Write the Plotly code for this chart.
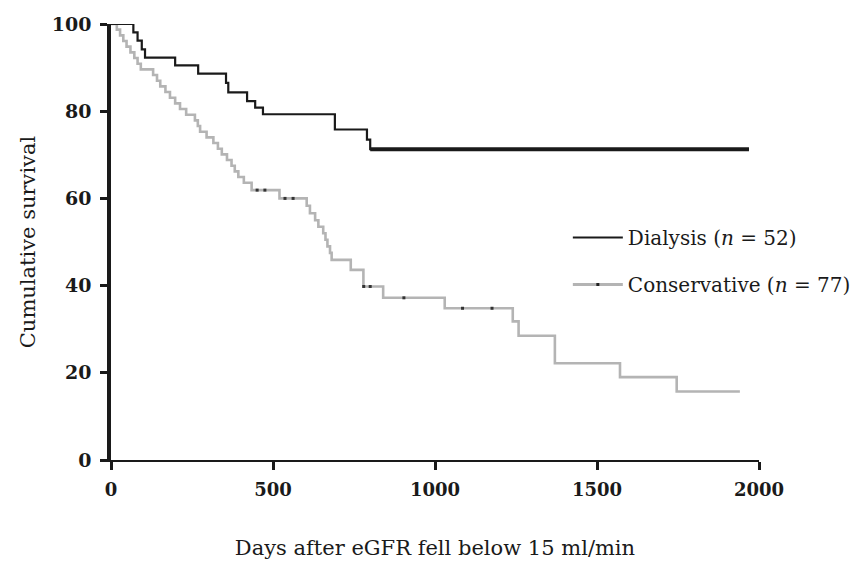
import plotly.graph_objects as go

# Kaplan-Meier estimates (days, cumulative survival %) -- value after each step
dialysis_days = [0, 69, 82, 95, 105, 198, 269, 355, 362, 420, 445, 469, 691, 790, 800, 1969]
dialysis_surv = [100, 98.1, 96.2, 94.2, 92.3, 90.5, 88.6, 86.5, 84.3, 82.3, 80.8, 79.3, 75.8, 73.5, 71.3, 71.3]

conservative_days = [0, 18, 28, 38, 48, 60, 72, 82, 92, 130, 142, 152, 168, 182, 198, 213,
                     232, 259, 268, 275, 295, 316, 330, 342, 358, 372, 382, 393, 410, 434,
                     520, 604, 614, 630, 640, 655, 662, 668, 676, 681, 740, 779, 840, 1030,
                     1240, 1258, 1370, 1571, 1746, 1941]
conservative_surv = [100, 98.7, 97.4, 96.1, 94.8, 93.5, 92.2, 90.9, 89.6, 88.3, 87.0, 85.7,
                     84.4, 83.1, 81.8, 80.5, 79.2, 77.9, 76.6, 75.3, 74.0, 72.7, 71.4, 70.1,
                     68.8, 67.5, 66.2, 64.9, 63.6, 61.9, 60.0, 58.3, 56.6, 55.0, 53.5, 52.0,
                     50.5, 49.0, 47.5, 45.9, 43.6, 39.8, 37.2, 34.8, 31.8, 28.5, 22.2, 19.0,
                     15.7, 15.7]

# censored observations in the conservative group
censor_days = [451, 475, 537, 562, 780, 800, 904, 1085, 1176]
censor_surv = [61.9, 61.9, 60.0, 60.0, 39.8, 39.8, 37.2, 34.8, 34.8]

x_ticks = [0, 500, 1000, 1500, 2000]
y_ticks = [0, 20, 40, 60, 80, 100]

DARK = "#1a1a1a"
GREY = "#b4b4b4"
SERIF = "DejaVu Serif"

fig = go.Figure()

fig.add_trace(go.Scatter(
    x=conservative_days, y=conservative_surv, mode="lines",
    line=dict(color=GREY, width=2.6, shape="hv"), showlegend=False,
))
fig.add_trace(go.Scatter(
    x=censor_days, y=censor_surv, mode="markers",
    marker=dict(symbol="square", size=3, color="#333333"), showlegend=False,
))
fig.add_trace(go.Scatter(
    x=dialysis_days, y=dialysis_surv, mode="lines",
    line=dict(color=DARK, width=2.2, shape="hv"), showlegend=False,
))
# dense censoring on the long plateau makes the tail look heavier
tail = dialysis_days.index(800)
fig.add_trace(go.Scatter(
    x=dialysis_days[tail:], y=dialysis_surv[tail:], mode="lines",
    line=dict(color=DARK, width=4), showlegend=False,
))

# legend entries
fig.add_trace(go.Scatter(
    x=[None], y=[None], mode="lines", name="Dialysis (<i>n</i> = 52)",
    line=dict(color=DARK, width=2), legendgroup="a",
))
fig.add_trace(go.Scatter(
    x=[None], y=[None], mode="lines+markers", name="Conservative (<i>n</i> = 77)",
    line=dict(color=GREY, width=3), marker=dict(symbol="square", size=3, color="#222222"),
    legendgroup="b",
))

fig.update_layout(
    width=866, height=569,
    margin=dict(l=111, r=107, t=24, b=109, autoexpand=False),
    plot_bgcolor="white", paper_bgcolor="white",
    font=dict(family=SERIF, color=DARK),
    legend=dict(
        x=0.705, y=0.555, xanchor="left", yanchor="top",
        font=dict(family=SERIF, size=20, color=DARK),
        bgcolor="rgba(0,0,0,0)", tracegroupgap=18, traceorder="grouped",
        itemwidth=50,
    ),
)
fig.update_xaxes(
    range=[0, 2000], tickvals=x_ticks, ticktext=[str(v) for v in x_ticks],
    showgrid=False, zeroline=False, automargin=False,
    showline=True, linecolor=DARK, linewidth=2,
    ticks="outside", ticklen=8, tickwidth=2.5, tickcolor=DARK, ticklabelstandoff=4,
    tickfont=dict(family=SERIF, size=18, color=DARK, weight="bold"),
    title=dict(text="Days after eGFR fell below 15 ml/min",
               font=dict(family=SERIF, size=21, color=DARK), standoff=42),
)
fig.update_yaxes(
    range=[0, 100], tickvals=y_ticks, ticktext=[str(v) for v in y_ticks],
    showgrid=False, zeroline=False, automargin=False,
    showline=True, linecolor=DARK, linewidth=3.5,
    ticks="outside", ticklen=7, tickwidth=2.5, tickcolor=DARK, ticklabelstandoff=5,
    tickfont=dict(family=SERIF, size=19, color=DARK, weight="bold"),
    title=dict(text="Cumulative survival",
               font=dict(family=SERIF, size=21, color=DARK), standoff=11),
)

fig.write_html("out.html")
